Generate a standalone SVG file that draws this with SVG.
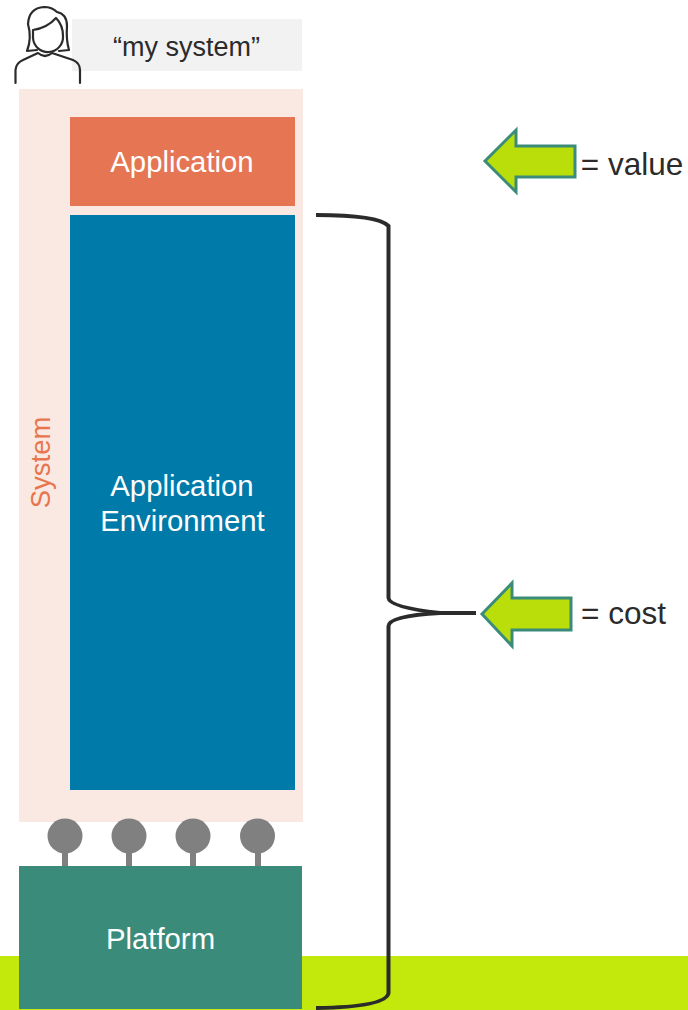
<svg xmlns="http://www.w3.org/2000/svg" width="688" height="1010" viewBox="0 0 688 1010">
<style>
text{font-family:"Liberation Sans",Arial,sans-serif;font-size:29.3px;text-anchor:middle}
.w{fill:#fff}
.d{fill:#2b2b2b}
.pin{fill:#808080}
.arrow{fill:#bade0a;stroke:#3b8b7b;stroke-width:3;stroke-linejoin:miter}
.brace{fill:none;stroke:#2b2b2b;stroke-width:4}
.icon{fill:none;stroke:#2b2b2b;stroke-width:2.200;stroke-linejoin:round;stroke-linecap:round}
</style>
<rect id="ground" x="0" y="956" width="688" height="54" fill="#c3e90c"/>
<g id="my-system"><rect x="72" y="19" width="230" height="52" fill="#f2f2f2"/><text x="186.500" y="56" class="d" style="font-size:27px">“my system”</text></g>
<g id="system"><rect x="19" y="89" width="284" height="733" fill="#fae9e2"/><text transform="translate(50 462.500) rotate(-90)" fill="#e7764f" style="font-size:27.500px">System</text></g>
<g id="application"><rect x="70" y="117" width="225" height="89" fill="#e67653"/><text x="182" y="172" class="w">Application</text></g>
<g id="application-environment"><rect x="70" y="215" width="225" height="575" fill="#007aa8"/><text x="182" y="496" class="w">Application</text><text x="182.500" y="531" class="w">Environment</text></g>
<g id="pins">
<rect x="62" y="850" width="6" height="18" class="pin"/><circle cx="65" cy="836" r="17.500" class="pin"/>
<rect x="126" y="850" width="6" height="18" class="pin"/><circle cx="129" cy="836" r="17.500" class="pin"/>
<rect x="190" y="850" width="6" height="18" class="pin"/><circle cx="193" cy="836" r="17.500" class="pin"/>
<rect x="255" y="850" width="6" height="18" class="pin"/><circle cx="257.500" cy="836" r="17.500" class="pin"/>
</g>
<g id="platform"><rect x="19" y="866" width="283" height="143" fill="#3b8b7b"/><text x="160.500" y="949" class="w">Platform</text></g>
<g id="user-icon">
<path class="icon" d="M15.500 83V70Q16 63 23 60L38 53Q45 59 52 53L73 60Q80 63 80 70V83"/>
<path class="icon" d="M33 30Q47 28 56 18Q63 25 63 36A15 15 0 0 1 33 38Z"/>
<path class="icon" d="M37 50L27 51Q32 38 28 24Q29 8 44 7Q52 7 57 12Q67 14 67 26Q66 40 69 50L59 51"/>
</g>
<g id="connectors">
<path class="brace" d="M316 215Q378 215 388.500 226V598Q389 607 440 613H476"/>
<path class="brace" d="M476 613H440Q389 616 388.500 626V993Q386 1007 316 1008"/>
</g>
<g id="value-arrow"><path class="arrow" d="M485 161L516 130V146H575V177H516V192Z"/><text x="632" y="175" class="d" style="font-size:31.500px">= value</text></g>
<g id="cost-arrow"><path class="arrow" d="M482 614L512 583V598H571V630H512V646Z"/><text x="623.500" y="624" class="d" style="font-size:31.500px">= cost</text></g>
</svg>
